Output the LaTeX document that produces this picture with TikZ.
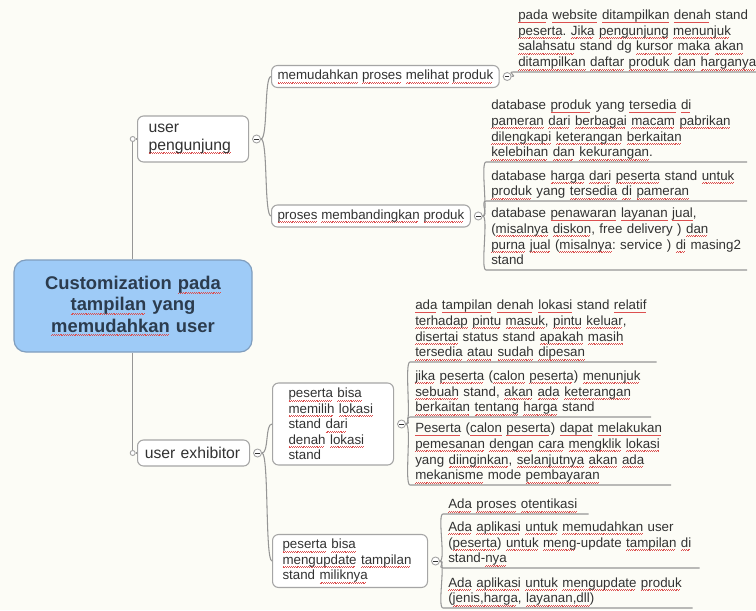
\documentclass[tikz,border=0pt]{standalone}
\usepackage{fontspec}
\setmainfont{Liberation Sans}
\usetikzlibrary{positioning}
\frenchspacing

\definecolor{bgcol}{RGB}{252,252,246}
\definecolor{rootfill}{RGB}{158,203,247}
\definecolor{rootline}{RGB}{128,158,190}
\definecolor{rootink}{RGB}{44,60,78}
\definecolor{boxline}{RGB}{165,165,165}
\definecolor{linkcol}{RGB}{150,150,150}
\definecolor{ink}{RGB}{50,50,50}
\definecolor{spell}{RGB}{220,80,80}

% red spell-check squiggle under a word
\newsavebox{\sqword}
\newcommand{\sq}[1]{\leavevmode\sbox{\sqword}{#1}\rlap{\color{spell}\leaders\hbox{\rule[-2.6pt]{0.7pt}{0.4pt}\rule[-2.0pt]{0.7pt}{0.4pt}}\hskip\wd\sqword}\usebox{\sqword}}
\newcommand{\ufix}{\rule[-3pt]{0pt}{3pt}}
\newcommand{\minusbar}{\rule[-0.35pt]{3.4pt}{0.7pt}}

\begin{document}
\begin{tikzpicture}[x=0.75pt,y=-0.75pt,
    every node/.style={text=ink},
    linkline/.style={draw=linkcol,line width=0.8pt},
    rootbox/.style={draw=rootline,fill=rootfill,line width=0.9pt,rounded corners=9pt,minimum width=178.5pt,minimum height=69pt,text width=170pt,inner xsep=4pt,align=center,font=\fontsize{13.8}{15.8}\selectfont\bfseries,text=rootink},
    topicbox/.style={draw=boxline,fill=white,line width=0.8pt,rounded corners=4.5pt,anchor=west,align=left},
    mainbox/.style={topicbox,font=\fontsize{11.8}{13.2}\selectfont},
    subbox/.style={topicbox,font=\fontsize{10}{11.6}\selectfont},
    leafnote/.style={anchor=south west,inner xsep=3.75pt,inner ysep=0.75pt,align=left,font=\fontsize{10}{11.8}\selectfont},
    minusbtn/.style={circle,draw=boxline,fill=white,line width=0.7pt,minimum size=6pt,inner sep=0pt},
    jointdot/.style={circle,draw=boxline,fill=white,line width=0.7pt,minimum size=3.75pt,inner sep=0pt}]

\fill[bgcol] (0,0) rectangle (756,610);
\useasboundingbox (0,0) rectangle (756,610);

\node[rootbox] (root) at (133,306) {Customization \sq{pada}\\ \sq{tampilan} yang\\ \sq{memudahkan} user};

\node[mainbox,text width=66.75pt,inner xsep=8.25pt,minimum height=34.5pt] (peng) at (137,139) {user\\ \sq{pengunjung}};
\node[mainbox,text width=73pt,inner xsep=5.5pt,minimum height=19.5pt] (exhib) at (137,453) {user exhibitor};
\node[jointdot,left=1pt of peng] (jpeng) {};
\node[jointdot,left=1pt of exhib] (jexhib) {};
\node[minusbtn,right=2.25pt of peng] (cpeng) {\minusbar};
\node[minusbtn,right=2.25pt of exhib] (cexhib) {\minusbar};

\node[subbox,inner xsep=4.5pt,minimum height=16.5pt] (lihat) at (271,76.5) {\sq{memudahkan} \sq{proses} \sq{melihat} \sq{produk}};
\node[subbox,inner xsep=4.5pt,minimum height=16.5pt] (banding) at (271,216) {\sq{proses} \sq{membandingkan} \sq{produk}};
\node[subbox,text width=66.75pt,inner xsep=12pt,minimum height=61.5pt] (pilih) at (272,424) {\sq{peserta} \sq{bisa}\\ \sq{memilih} \sq{lokasi}\\ stand \sq{dari}\\ \sq{denah} \sq{lokasi}\\ stand};
\node[subbox,text width=101.25pt,inner xsep=7.5pt,minimum height=39pt] (upd) at (272,561) {\sq{peserta} \sq{bisa}\\ \sq{mengupdate} \sq{tampilan}\\ stand \sq{miliknya}};
\node[minusbtn,right=2.25pt of lihat] (clihat) {\minusbar};
\node[minusbtn,right=2.25pt of banding] (cbanding) {\minusbar};
\node[minusbtn,right=2.25pt of pilih] (cpilih) {\minusbar};
\node[minusbtn,right=2.25pt of upd] (cupd) {\minusbar};

\node[leafnote,text width=182pt] (lihat1) at (513,72) {\sq{pada} \sq{website} \sq{ditampilkan} \sq{denah} stand\\ \sq{peserta}. \sq{Jika} \sq{pengunjung} \sq{menunjuk}\\ \sq{salahsatu} stand dg \sq{kursor} \sq{maka} \sq{akan}\\ \sq{ditampilkan} \sq{daftar} \sq{produk} \sq{dan} \sq{harganya}\ufix};

\node[leafnote,text width=188pt] (banding1) at (486,162) {database \sq{produk} yang \sq{tersedia} \sq{di}\\ \sq{pameran} \sq{dari} \sq{berbagai} \sq{macam} \sq{pabrikan}\\ \sq{dilengkapi} \sq{keterangan} \sq{berkaitan}\\ \sq{kelebihan} \sq{dan} \sq{kekurangan}.\ufix};
\node[leafnote,text width=188pt] (banding2) at (486,201) {database \sq{harga} \sq{dari} \sq{peserta} stand \sq{untuk}\\ \sq{produk} yang \sq{tersedia} \sq{di} \sq{pameran}\ufix};
\node[leafnote,text width=188pt] (banding3) at (486,270) {database \sq{penawaran} \sq{layanan} \sq{jual},\\ (\sq{misalnya} \sq{diskon}, free delivery ) \sq{dan}\\ \sq{purna} \sq{jual} (\sq{misalnya}: service ) \sq{di} masing2\\ stand\ufix};

\node[leafnote,text width=177pt] (pilih1) at (410,362) {\sq{ada} \sq{tampilan} \sq{denah} \sq{lokasi} stand \sq{relatif}\\ \sq{terhadap} \sq{pintu} \sq{masuk}, \sq{pintu} \sq{keluar},\\ \sq{disertai} status stand \sq{apakah} \sq{masih}\\ \sq{tersedia} \sq{atau} \sq{sudah} \sq{dipesan}\ufix};
\node[leafnote,text width=173pt] (pilih2) at (410,417) {\sq{jika} \sq{peserta} (\sq{calon} \sq{peserta}) \sq{menunjuk}\\ \sq{sebuah} stand, \sq{akan} \sq{ada} \sq{keterangan}\\ \sq{berkaitan} \sq{tentang} \sq{harga} stand\ufix};
\node[leafnote,text width=188pt] (pilih3) at (410,485) {\sq{Peserta} (\sq{calon} \sq{peserta}) \sq{dapat} \sq{melakukan}\\ \sq{pemesanan} \sq{dengan} \sq{cara} \sq{mengklik} \sq{lokasi}\\ yang \sq{diinginkan}, \sq{selanjutnya} \sq{akan} \sq{ada}\\ \sq{mekanisme} mode \sq{pembayaran}\ufix};

\node[leafnote,text width=101.25pt] (upd1) at (443,514) {\sq{Ada} \sq{proses} \sq{otentikasi}\ufix};
\node[leafnote,text width=184.5pt] (upd2) at (443,568) {\sq{Ada} \sq{aplikasi} \sq{untuk} \sq{memudahkan} user\\ (\sq{peserta}) \sq{untuk} \sq{meng}-update \sq{tampilan} \sq{di}\\ stand-\sq{nya}\ufix};
\node[leafnote,text width=179.25pt] (upd3) at (443,608) {\sq{Ada} \sq{aplikasi} \sq{untuk} \sq{mengupdate} \sq{produk}\\ (\sq{jenis,harga}, \sq{layanan,dll})\ufix};

\draw[linkline] (jpeng.south) -- (jpeng.south |- root.north);
\draw[linkline] (jexhib.north) -- (jexhib.north |- root.south);
\draw[linkline] (jpeng) -- (peng);
\draw[linkline] (jexhib) -- (exhib);
\foreach \a/\b in {cpeng/lihat,cpeng/banding,cexhib/pilih,cexhib/upd}
    \draw[linkline] (\a.east) .. controls +(7,0) and +(-7,0) .. (\b.west);
\foreach \a/\b in {clihat/lihat1,cbanding/banding1,cbanding/banding2,cbanding/banding3,cpilih/pilih1,cpilih/pilih2,cpilih/pilih3,cupd/upd1,cupd/upd2,cupd/upd3}
    \draw[linkline] (\a.east) .. controls +(6,0) and +(-6,0) .. (\b.south west) -- (\b.south east);
\end{tikzpicture}
\end{document}
